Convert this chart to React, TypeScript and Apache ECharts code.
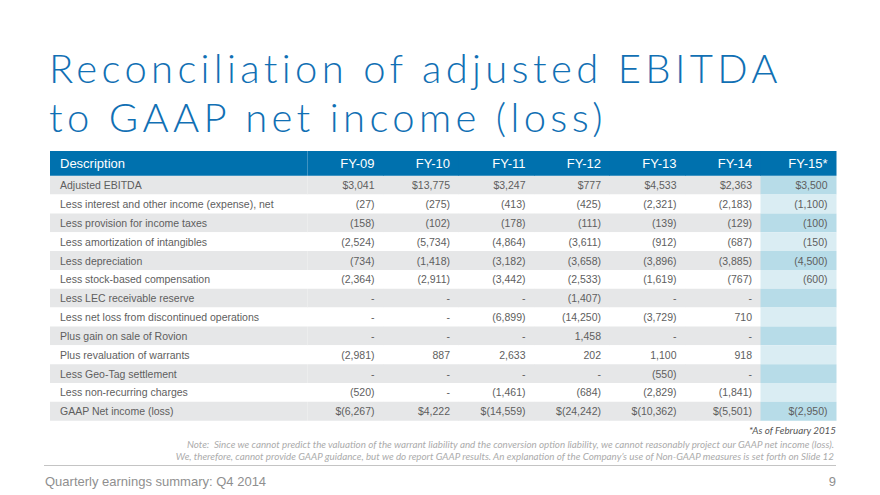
import React, { useEffect, useRef } from "react";
import * as echarts from "echarts";

const titleLines = ["Reconciliation of adjusted EBITDA", "to GAAP net income (loss)"];
const headerFirst = "Description";
const fyLabels = ["FY-09", "FY-10", "FY-11", "FY-12", "FY-13", "FY-14", "FY-15*"];
const rowLabels = [
  "Adjusted EBITDA",
  "Less interest and other income (expense), net",
  "Less provision for income taxes",
  "Less amortization of intangibles",
  "Less depreciation",
  "Less stock-based compensation",
  "Less LEC receivable reserve",
  "Less net loss from discontinued operations",
  "Plus gain on sale of Rovion",
  "Plus revaluation of warrants",
  "Less Geo-Tag settlement",
  "Less non-recurring charges",
  "GAAP Net income (loss)",
];
// null = "-", "" = blank
const fy09 = [3041, -27, -158, -2524, -734, -2364, null, null, null, -2981, null, -520, -6267];
const fy10 = [13775, -275, -102, -5734, -1418, -2911, null, null, null, 887, null, null, 4222];
const fy11 = [3247, -413, -178, -4864, -3182, -3442, null, -6899, null, 2633, null, -1461, -14559];
const fy12 = [777, -425, -111, -3611, -3658, -2533, -1407, -14250, 1458, 202, null, -684, -24242];
const fy13 = [4533, -2321, -139, -912, -3896, -1619, null, -3729, null, 1100, -550, -2829, -10362];
const fy14 = [2363, -2183, -129, -687, -3885, -767, null, 710, null, 918, null, -1841, -5501];
const fy15: any[] = [3500, -1100, -100, -150, -4500, -600, "", "", "", "", "", "", -2950];
const dollarRows = [0, 12];
const footnoteAsOf = "*As of February 2015";
const noteLines = [
  "Note:  Since we cannot predict the valuation of the warrant liability and the conversion option liability, we cannot reasonably project our GAAP net income (loss).",
  "We, therefore, cannot provide GAAP guidance, but we do report GAAP results. An explanation of the Company\u2019s use of Non-GAAP measures is set forth on Slide 12",
];
const footerText = "Quarterly earnings summary: Q4 2014";
const pageNumber = "9";

const columns = [fy09, fy10, fy11, fy12, fy13, fy14, fy15];

function fmt(v: any, dollar: boolean): string {
  if (v === null) return "-";
  if (v === "") return "";
  const abs = Math.abs(v).toLocaleString("en-US");
  const core = v < 0 ? `(${abs})` : abs;
  return dollar ? "$" + core : core;
}

// styles
const BLUE = "#0071AE";
const GRAY = "#E6E7E8";
const WHITE = "#FFFFFF";
const HL_DARK = "#B7DCE8";
const HL_LIGHT = "#DAEDF3";
const TEXT = "#5E5E5E";
const TITLE = "#1170B4";
const TITLE_FONT = "300 40px Lato, sans-serif";
const TITLE_LINE_H = 48.5;
const TITLE_WIDTH = 730; // width of first title line in the slide
const BODY_FONT = "10.5px 'Liberation Sans', Arial, sans-serif";
const HEAD_FONT = "13px 'Liberation Sans', Arial, sans-serif";
const NOTE_FONT = "italic 9.8px Lato, sans-serif";
const HEADER_H = 24.7;
const TABLE_LEFT = 50;
const TABLE_RIGHT = 836;
const COL_W = 75.5;
const TABLE_TOP = 175.7;
const TABLE_H = 245;
const NUM_LEFT = TABLE_RIGHT - COL_W * 7;

function applyTitleTracking(root: HTMLElement | null) {
  if (!root) return;
  const canvas = document.createElement("canvas");
  const ctx = canvas.getContext("2d");
  if (!ctx) return;
  ctx.font = TITLE_FONT;
  const w1 = ctx.measureText(titleLines[0]).width;
  const spacing = Math.max(0, (TITLE_WIDTH - w1) / (titleLines[0].length - 1));
  root.querySelectorAll("text, tspan").forEach((t) => {
    const s = (t.textContent || "").trim();
    if (titleLines.includes(s)) {
      t.setAttribute("letter-spacing", spacing.toFixed(2));
    }
  });
}

export default function App() {
  const ref = useRef<HTMLDivElement>(null);
  useEffect(() => {
    if (!ref.current) return;
    const chart = echarts.init(ref.current, null, { renderer: "svg" });

    const descData = rowLabels.map((_, i) => [0, i]);
    const cellData: number[][] = [];
    const cellText: string[] = [];
    columns.forEach((col, ci) => {
      col.forEach((v, ri) => {
        cellData.push([ci, ri]);
        cellText.push(fmt(v, dollarRows.includes(ri)));
      });
    });
    const headData = fyLabels.map((_, i) => [i, 0]);

    const option: any = {
      animation: false,
      backgroundColor: "#fff",
      grid: [
        { left: TABLE_LEFT, top: TABLE_TOP, width: NUM_LEFT - TABLE_LEFT, height: TABLE_H },
        { left: NUM_LEFT, top: TABLE_TOP, width: TABLE_RIGHT - NUM_LEFT, height: TABLE_H },
      ],
      xAxis: [
        { gridIndex: 0, type: "category", data: [headerFirst], show: false },
        { gridIndex: 1, type: "category", data: fyLabels, show: false },
      ],
      yAxis: [
        { gridIndex: 0, type: "category", data: rowLabels, inverse: true, show: false },
        { gridIndex: 1, type: "category", data: rowLabels, inverse: true, show: false },
      ],
      series: [
        {
          type: "custom",
          xAxisIndex: 0,
          yAxisIndex: 0,
          data: descData,
          encode: { x: 0, y: 1 },
          renderItem: (params: any, api: any) => {
            const row = api.value(1);
            const c = api.coord([api.value(0), row]);
            const s = api.size([1, 1]);
            const children: any[] = [
              {
                type: "rect",
                shape: { x: c[0] - s[0] / 2, y: c[1] - s[1] / 2, width: s[0], height: s[1] },
                style: { fill: row % 2 === 0 ? GRAY : WHITE },
              },
              {
                type: "text",
                style: {
                  x: c[0] - s[0] / 2 + 10,
                  y: c[1],
                  text: rowLabels[row],
                  align: "left",
                  verticalAlign: "middle",
                  fill: TEXT,
                  font: BODY_FONT,
                },
              },
            ];
            if (row === 0) {
              children.push(
                {
                  type: "rect",
                  shape: { x: c[0] - s[0] / 2, y: c[1] - s[1] / 2 - HEADER_H, width: s[0], height: HEADER_H },
                  style: { fill: BLUE },
                },
                {
                  type: "text",
                  style: {
                    x: c[0] - s[0] / 2 + 10,
                    y: c[1] - s[1] / 2 - HEADER_H / 2,
                    text: headerFirst,
                    align: "left",
                    verticalAlign: "middle",
                    fill: "#fff",
                    font: HEAD_FONT,
                  },
                }
              );
            }
            return { type: "group", children };
          },
        },
        {
          type: "custom",
          xAxisIndex: 1,
          yAxisIndex: 1,
          data: cellData,
          encode: { x: 0, y: 1 },
          renderItem: (params: any, api: any) => {
            const col = api.value(0);
            const row = api.value(1);
            const c = api.coord([col, row]);
            const s = api.size([1, 1]);
            const even = row % 2 === 0;
            let fill = even ? GRAY : WHITE;
            if (col === fyLabels.length - 1) fill = even ? HL_DARK : HL_LIGHT;
            return {
              type: "group",
              children: [
                {
                  type: "rect",
                  shape: { x: c[0] - s[0] / 2, y: c[1] - s[1] / 2, width: s[0] + 0.5, height: s[1] },
                  style: { fill },
                },
                {
                  type: "text",
                  style: {
                    x: c[0] + s[0] / 2 - 8.5,
                    y: c[1],
                    text: cellText[params.dataIndex],
                    align: "right",
                    verticalAlign: "middle",
                    fill: TEXT,
                    font: BODY_FONT,
                  },
                },
              ],
            };
          },
        },
        {
          type: "custom",
          xAxisIndex: 1,
          yAxisIndex: 1,
          data: headData,
          encode: { x: 0, y: 1 },
          renderItem: (params: any, api: any) => {
            const col = api.value(0);
            const c = api.coord([col, 0]);
            const s = api.size([1, 1]);
            const top = c[1] - s[1] / 2 - HEADER_H;
            return {
              type: "group",
              children: [
                {
                  type: "rect",
                  shape: { x: c[0] - s[0] / 2, y: top, width: s[0] + 0.5, height: HEADER_H },
                  style: { fill: BLUE },
                },
                {
                  type: "text",
                  style: {
                    x: c[0] + s[0] / 2 - 8.5,
                    y: top + HEADER_H / 2,
                    text: fyLabels[col],
                    align: "right",
                    verticalAlign: "middle",
                    fill: "#fff",
                    font: HEAD_FONT,
                  },
                },
              ],
            };
          },
        },
      ],
      graphic: [
        {
          type: "text",
          x: 49,
          y: 68 - TITLE_LINE_H / 2,
          style: {
            text: titleLines.join("\n"),
            fill: TITLE,
            font: TITLE_FONT,
            lineHeight: TITLE_LINE_H,
            verticalAlign: "top",
          },
        },
        {
          type: "text",
          x: 836,
          y: 430,
          style: { text: footnoteAsOf, fill: "#555", font: NOTE_FONT, align: "right", verticalAlign: "middle" },
        },
        {
          type: "text",
          x: 834,
          y: 444,
          style: { text: noteLines[0], fill: "#ABABAB", font: NOTE_FONT, align: "right", verticalAlign: "middle" },
        },
        {
          type: "text",
          x: 834,
          y: 456,
          style: { text: noteLines[1], fill: "#ABABAB", font: NOTE_FONT, align: "right", verticalAlign: "middle" },
        },
        {
          type: "line",
          shape: { x1: 44, y1: 465.5, x2: 836, y2: 465.5 },
          style: { stroke: "#C4C4C4", lineWidth: 1 },
        },
        {
          type: "text",
          x: 45,
          y: 481,
          style: { text: footerText, fill: "#8F8F8F", font: "13px 'Liberation Sans', Arial, sans-serif", verticalAlign: "middle" },
        },
        {
          type: "text",
          x: 836,
          y: 481,
          style: {
            text: pageNumber,
            fill: "#8F8F8F",
            font: "13px 'Liberation Sans', Arial, sans-serif",
            align: "right",
            verticalAlign: "middle",
          },
        },
      ],
    };
    chart.setOption(option);
    applyTitleTracking(ref.current);
    const onFinished = () => applyTitleTracking(ref.current);
    chart.on("finished", onFinished);
    return () => {
      chart.off("finished", onFinished);
      chart.dispose();
    };
  }, []);
  return (
    <div
      ref={ref}
      style={{ position: "fixed", left: 0, top: 0, width: 880, height: 495, background: "#fff" }}
    />
  );
}
